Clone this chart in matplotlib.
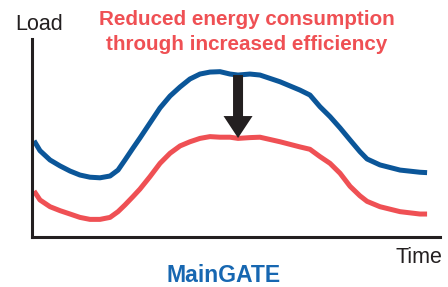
import matplotlib.pyplot as plt
from matplotlib.patches import FancyArrowPatch

OUTPUT_IMAGE = "out.png"

# time of day (hours) and load (arbitrary units)
hours = [0.12, 0.47, 1.06, 1.65, 2.24, 2.82, 3.41, 4.0, 4.59, 5.06,
         5.47, 5.94, 6.35, 6.94, 7.53, 8.12, 8.71, 9.29, 9.88, 10.47,
         11.06, 11.65, 12.12, 12.82, 13.41, 14.59, 15.76, 16.35, 16.94,
         17.53, 18.12, 18.71, 19.29, 19.71, 20.47, 21.65, 22.82, 23.24]
load_before = [48.6, 43.6, 38.9, 35.9, 33.3, 31.3, 30.2, 29.9, 30.8, 33.8,
               38.9, 44.9, 50.0, 57.6, 65.2, 71.2, 75.8, 79.8, 82.3, 83.3,
               83.5, 82.3, 81.8, 82.3, 81.8, 78.4, 74.2, 71.7, 65.8,
               60.8, 55.1, 49.0, 43.1, 39.4, 36.4, 33.8, 32.7, 32.5]
load_after = [23.2, 18.7, 15.3, 13.3, 11.6, 9.9, 8.9, 8.9, 9.9, 12.8,
              16.2, 20.4, 24.2, 30.5, 37.2, 42.3, 46.0, 48.1, 49.8, 50.7,
              50.4, 50.4, 49.8, 50.2, 50.4, 48.1, 45.5, 44.3, 40.6,
              37.2, 32.2, 25.6, 20.8, 18.0, 15.3, 12.8, 11.6, 11.6]

arrow_hour = 12.12
arrow_from = 81.8
arrow_to = 50.0

title_lines = ["Reduced energy consumption", "through increased efficiency"]
y_label = "Load"
x_label = "Time"
caption = "MainGATE"

BLUE = "#0b5699"
RED = "#ef5054"
DARK = "#231f20"
CAPTION_BLUE = "#1767b1"

W, H = 448, 287


def fx(px):
    return px / W


def fy(py):
    return 1 - py / H


def main():
    plt.rcParams["font.family"] = ["Liberation Sans", "DejaVu Sans"]

    fig = plt.figure(figsize=(W / 100, H / 100), dpi=100)
    ax = fig.add_axes([fx(32), fy(237), fx(440) - fx(32), fy(39) - fy(237)])

    ax.set_xlim(0, 24)
    ax.set_ylim(0, 100)

    ax.plot(hours, load_before, color=BLUE, lw=3.6,
            solid_joinstyle="round", solid_capstyle="butt")
    ax.plot(hours, load_after, color=RED, lw=3.6,
            solid_joinstyle="round", solid_capstyle="butt")

    arrow = FancyArrowPatch(
        (arrow_hour, arrow_from), (arrow_hour, arrow_to),
        arrowstyle="simple,head_length=15.8,head_width=20.9,tail_width=7.2",
        mutation_scale=1, shrinkA=0, shrinkB=0,
        color=DARK, lw=0, zorder=4,
    )
    ax.add_patch(arrow)

    for side in ["top", "right"]:
        ax.spines[side].set_visible(False)
    for side in ["left", "bottom"]:
        ax.spines[side].set_color(DARK)
        ax.spines[side].set_linewidth(2.2)
        ax.spines[side].set_capstyle("projecting")
    ax.set_xticks([])
    ax.set_yticks([])
    ax.patch.set_visible(False)

    fig.text(fx(247), fy(25), title_lines[0], color=RED, fontsize=14.9,
             fontweight="bold", ha="center", va="baseline")
    fig.text(fx(247), fy(50), title_lines[1], color=RED, fontsize=14.9,
             fontweight="bold", ha="center", va="baseline")
    fig.text(fx(15), fy(30), y_label, color=DARK, fontsize=15.5,
             ha="left", va="baseline")
    fig.text(fx(395), fy(263), x_label, color=DARK, fontsize=15.5,
             ha="left", va="baseline")
    fig.text(fx(223.5), fy(282), caption, color=CAPTION_BLUE, fontsize=16.6,
             fontweight="bold", ha="center", va="baseline")

    fig.savefig(OUTPUT_IMAGE, dpi=100)
    plt.close(fig)


if __name__ == "__main__":
    main()
